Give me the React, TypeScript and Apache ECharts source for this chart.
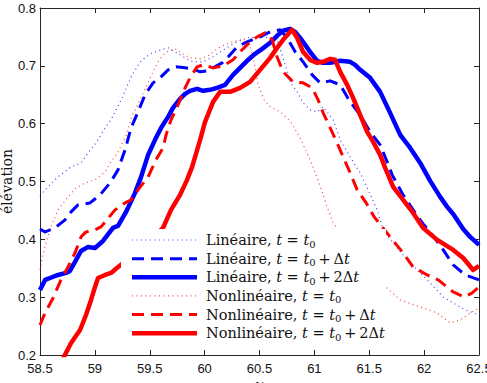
import React, { useEffect, useRef } from "react";
import * as echarts from "echarts";

// Axis ranges and ticks
const xMin = 58.5;
const xMax = 62.5;
const xStep = 0.5;
const yMin = 0.2;
const yMax = 0.8;
const yStep = 0.1;

// Linéaire, t = t0
const linT0: [number, number][] = [
  [58.5, 0.4751], [58.546, 0.4855], [58.664, 0.508], [58.783, 0.5253], [58.874, 0.5322],
  [58.938, 0.5495], [59.01, 0.5668], [59.083, 0.5893], [59.156, 0.61], [59.248, 0.6446],
  [59.33, 0.681], [59.412, 0.7069], [59.503, 0.7208], [59.603, 0.7277], [59.667, 0.7311],
  [59.731, 0.7242], [59.822, 0.7138], [59.895, 0.7069], [59.986, 0.7069], [60.077, 0.7156],
  [60.159, 0.726], [60.259, 0.7381], [60.387, 0.7484], [60.505, 0.7502], [60.597, 0.7484],
  [60.66, 0.745], [60.715, 0.7138], [60.779, 0.6723], [60.843, 0.655], [60.897, 0.636],
  [60.961, 0.6239], [61.025, 0.6204], [61.08, 0.6291], [61.171, 0.6066], [61.235, 0.572],
  [61.326, 0.5426], [61.417, 0.5149], [61.49, 0.4855], [61.572, 0.4509], [61.627, 0.4163],
  [61.718, 0.3938], [61.846, 0.3644], [61.937, 0.3471], [62.055, 0.3246], [62.174, 0.3003],
  [62.265, 0.29], [62.374, 0.2779], [62.5, 0.2692],
];

// Linéaire, t = t0 + Δt
const linT1: [number, number][] = [
  [58.5, 0.418], [58.546, 0.4128], [58.637, 0.4197], [58.728, 0.4336], [58.783, 0.4474],
  [58.846, 0.4595], [58.956, 0.463], [59.047, 0.4768], [59.138, 0.4976], [59.211, 0.5201],
  [59.275, 0.5547], [59.33, 0.5927], [59.393, 0.6204], [59.457, 0.6498], [59.53, 0.6706],
  [59.603, 0.681], [59.667, 0.6931], [59.74, 0.6983], [59.822, 0.6965], [59.895, 0.6948],
  [59.959, 0.6896], [60.022, 0.6913], [60.077, 0.6965], [60.159, 0.7052], [60.232, 0.719],
  [60.296, 0.7329], [60.387, 0.7415], [60.505, 0.7502], [60.597, 0.7588], [60.688, 0.7623],
  [60.752, 0.7484], [60.825, 0.7242], [60.897, 0.7069], [60.98, 0.6844], [61.052, 0.6706],
  [61.144, 0.674], [61.235, 0.6671], [61.326, 0.6377], [61.417, 0.6152], [61.508, 0.5858],
  [61.599, 0.5633], [61.663, 0.5339], [61.709, 0.5114], [61.809, 0.4768], [61.9, 0.4509],
  [61.991, 0.4266], [62.082, 0.4059], [62.174, 0.3817], [62.265, 0.3557], [62.374, 0.3384],
  [62.5, 0.3298],
];

// Linéaire, t = t0 + 2Δt
const linT2: [number, number][] = [
  [58.5, 0.3125], [58.546, 0.3298], [58.591, 0.3332], [58.664, 0.3384], [58.737, 0.3419],
  [58.773, 0.3453], [58.819, 0.3609], [58.874, 0.3799], [58.938, 0.3869], [59.001, 0.3851],
  [59.074, 0.3972], [59.165, 0.4197], [59.211, 0.4232], [59.284, 0.4474], [59.366, 0.4803],
  [59.421, 0.508], [59.485, 0.546], [59.548, 0.572], [59.603, 0.5927], [59.667, 0.6118],
  [59.712, 0.6273], [59.776, 0.6429], [59.822, 0.6516], [59.867, 0.6568], [59.931, 0.6602],
  [59.986, 0.6568], [60.05, 0.6585], [60.113, 0.6619], [60.186, 0.6671], [60.259, 0.6844],
  [60.323, 0.6965], [60.387, 0.7087], [60.46, 0.7208], [60.524, 0.7294], [60.597, 0.7398],
  [60.66, 0.7519], [60.715, 0.7606], [60.779, 0.764], [60.825, 0.7588], [60.87, 0.7484],
  [60.916, 0.7363], [60.961, 0.7242], [61.025, 0.7087], [61.08, 0.7052], [61.144, 0.7052],
  [61.235, 0.7087], [61.326, 0.7069], [61.371, 0.7017], [61.417, 0.6931], [61.508, 0.6792],
  [61.599, 0.655], [61.69, 0.6187], [61.782, 0.5806], [61.873, 0.5581], [61.964, 0.5322],
  [62.055, 0.501], [62.146, 0.4734], [62.21, 0.4561], [62.265, 0.4439], [62.356, 0.418],
  [62.42, 0.4042], [62.5, 0.3903],
];

// Nonlinéaire, t = t0
const nlT0: [number, number][] = [
  [58.5, 0.3471], [58.527, 0.373], [58.555, 0.3938], [58.6, 0.4215], [58.664, 0.4509],
  [58.755, 0.4734], [58.819, 0.4872], [58.91, 0.4976], [59.001, 0.5028], [59.093, 0.5166],
  [59.147, 0.5339], [59.211, 0.5512], [59.275, 0.5754], [59.339, 0.6135], [59.43, 0.6481],
  [59.521, 0.6862], [59.585, 0.7104], [59.649, 0.7242], [59.731, 0.7294], [59.785, 0.7225],
  [59.867, 0.7138], [59.959, 0.7121], [60.031, 0.7173], [60.141, 0.7329], [60.232, 0.7398],
  [60.323, 0.745], [60.378, 0.7415], [60.414, 0.7329], [60.451, 0.7069], [60.487, 0.6671],
  [60.542, 0.6412], [60.597, 0.6291], [60.688, 0.6204], [60.779, 0.6048], [60.87, 0.5754],
  [60.961, 0.5374], [61.025, 0.5062], [61.071, 0.482], [61.116, 0.4561], [61.171, 0.4284],
  [61.417, 0.3644], [61.663, 0.3159], [61.782, 0.2952], [61.964, 0.283], [62.119, 0.2727],
  [62.237, 0.2554], [62.329, 0.2606], [62.42, 0.2727], [62.5, 0.2813],
];

// Nonlinéaire, t = t0 + Δt
const nlT1: [number, number][] = [
  [58.5, 0.2519], [58.546, 0.2727], [58.619, 0.2986], [58.691, 0.3298], [58.755, 0.3522],
  [58.819, 0.3765], [58.874, 0.4042], [58.919, 0.4128], [59.001, 0.4163], [59.056, 0.4215],
  [59.184, 0.4509], [59.275, 0.463], [59.33, 0.4682], [59.393, 0.4855], [59.485, 0.508],
  [59.557, 0.5374], [59.621, 0.5581], [59.649, 0.5806], [59.694, 0.6066], [59.758, 0.6325],
  [59.822, 0.6619], [59.867, 0.6792], [59.931, 0.6983], [59.986, 0.7017], [60.077, 0.6965],
  [60.168, 0.7], [60.259, 0.7104], [60.323, 0.7242], [60.387, 0.7363], [60.478, 0.7502],
  [60.551, 0.7571], [60.615, 0.745], [60.66, 0.7156], [60.715, 0.6896], [60.806, 0.6723],
  [60.897, 0.6706], [60.98, 0.6619], [61.034, 0.6412], [61.08, 0.6187], [61.144, 0.5927],
  [61.207, 0.5668], [61.262, 0.5426], [61.326, 0.5149], [61.39, 0.4855], [61.472, 0.463],
  [61.545, 0.4388], [61.69, 0.4042], [61.809, 0.3765], [61.9, 0.3522], [62.028, 0.3384],
  [62.128, 0.3298], [62.265, 0.309], [62.365, 0.3003], [62.438, 0.3073], [62.5, 0.3176],
];

// Nonlinéaire, t = t0 + 2Δt
const nlT2: [number, number][] = [
  [58.7, 0.19], [58.783, 0.2208], [58.865, 0.2433], [58.919, 0.2692], [58.965, 0.2952],
  [59.001, 0.3176], [59.029, 0.3332], [59.093, 0.3384], [59.147, 0.3419], [59.211, 0.3522],
  [59.412, 0.3817], [59.621, 0.4197], [59.694, 0.4509], [59.776, 0.4768], [59.84, 0.5028],
  [59.886, 0.5253], [59.959, 0.572], [60.004, 0.6031], [60.077, 0.6377], [60.141, 0.655],
  [60.232, 0.655], [60.323, 0.6619], [60.414, 0.6723], [60.505, 0.6931], [60.597, 0.7138],
  [60.66, 0.7311], [60.715, 0.745], [60.797, 0.7623], [60.843, 0.7484], [60.897, 0.7242],
  [60.961, 0.7104], [61.025, 0.7052], [61.08, 0.7069], [61.144, 0.7121], [61.189, 0.7104],
  [61.235, 0.6896], [61.299, 0.6671], [61.353, 0.6446], [61.417, 0.6152], [61.481, 0.5858],
  [61.536, 0.5685], [61.599, 0.546], [61.645, 0.5235], [61.718, 0.4907], [61.809, 0.4682],
  [61.9, 0.4457], [61.991, 0.4197], [62.119, 0.399], [62.265, 0.3817], [62.356, 0.3678],
  [62.447, 0.347], [62.5, 0.354],
];

const BLUE = "#0000ff";
const RED = "#ff0000";
const SERIF = "DejaVu Serif";
const SANS = "Liberation Sans";
const AXIS_COLOR = "#262626";

type Style = { color: string; width: number; dash: number[] | "solid"; opacity: number };
const dotted = (color: string): Style => ({ color, width: 1.2, dash: [1, 3.5], opacity: 0.75 });
const dashed = (color: string): Style => ({ color, width: 3, dash: [12, 7], opacity: 1 });
const solid = (color: string): Style => ({ color, width: 4.5, dash: "solid", opacity: 1 });

// thin spaces around the binary "+"
const PLUS = "\u2009+\u2009";

const seriesList = [
  { name: "lin0", data: linT0, style: dotted(BLUE), label: "{r|Linéaire, }{i|t}{r| = }{i|t}{s|0}" },
  { name: "lin1", data: linT1, style: dashed(BLUE), label: `{r|Linéaire, }{i|t}{r| = }{i|t}{s|0}{r|${PLUS}Δ}{i|t}` },
  { name: "lin2", data: linT2, style: solid(BLUE), label: `{r|Linéaire, }{i|t}{r| = }{i|t}{s|0}{r|${PLUS}2Δ}{i|t}` },
  { name: "nl0", data: nlT0, style: dotted(RED), label: "{r|Nonlinéaire, }{i|t}{r| = }{i|t}{s|0}" },
  { name: "nl1", data: nlT1, style: dashed(RED), label: `{r|Nonlinéaire, }{i|t}{r| = }{i|t}{s|0}{r|${PLUS}Δ}{i|t}` },
  { name: "nl2", data: nlT2, style: solid(RED), label: `{r|Nonlinéaire, }{i|t}{r| = }{i|t}{s|0}{r|${PLUS}2Δ}{i|t}` },
];

const richText = {
  r: { fontFamily: SERIF, fontSize: 14.5, lineHeight: 18, fill: "#111" },
  i: { fontFamily: SERIF, fontSize: 14.5, lineHeight: 18, fontStyle: "italic", fill: "#111" },
  s: { fontFamily: SERIF, fontSize: 10, lineHeight: 12, verticalAlign: "bottom", fill: "#111" },
};

function buildLegend() {
  const boxX = 121;
  const boxY = 229;
  const boxW = 265;
  const boxH = 120;
  const rowTop = 240;
  const rowStep = 18.65;
  const lineX1 = 132;
  const lineX2 = 197;
  const textX = 206;
  const els: any[] = [
    { type: "rect", z: 100, shape: { x: boxX, y: boxY, width: boxW, height: boxH }, style: { fill: "#ffffff" } },
  ];
  seriesList.forEach((s, k) => {
    const yc = rowTop + k * rowStep;
    els.push({
      type: "line",
      z: 101,
      shape: { x1: lineX1, y1: yc, x2: lineX2, y2: yc },
      style: {
        stroke: s.style.color,
        lineWidth: s.style.width,
        lineDash: s.style.dash === "solid" ? null : s.style.dash,
        opacity: s.style.opacity,
      },
    });
    els.push({
      type: "text",
      z: 101,
      x: textX,
      y: yc,
      style: { text: s.label, rich: richText, verticalAlign: "middle", align: "left" },
    });
  });
  return els;
}

function buildOption(): echarts.EChartsOption {
  const commonX = {
    type: "value" as const,
    min: xMin,
    max: xMax,
    interval: xStep,
    splitLine: { show: false },
    axisLine: { show: true, onZero: false, lineStyle: { color: AXIS_COLOR, width: 1 } },
    axisTick: { show: true, inside: true, length: 5, lineStyle: { color: AXIS_COLOR } },
  };
  const commonY = {
    type: "value" as const,
    min: yMin,
    max: yMax,
    interval: yStep,
    splitLine: { show: false },
    axisLine: { show: true, onZero: false, lineStyle: { color: AXIS_COLOR, width: 1 } },
    axisTick: { show: true, inside: true, length: 5, lineStyle: { color: AXIS_COLOR } },
  };
  return {
    animation: false,
    backgroundColor: "#ffffff",
    grid: { left: 40, right: 8, top: 8, bottom: 28, containLabel: false, outerBoundsMode: "none" } as any,
    xAxis: [
      {
        ...commonX,
        position: "bottom",
        axisLabel: { show: true, margin: 7, color: "#111", fontFamily: SANS, fontSize: 13, hideOverlap: false },
        name: "x",
        nameLocation: "middle",
        nameGap: 22,
        nameMoveOverlap: false,
        nameTextStyle: { fontFamily: SERIF, fontStyle: "italic", fontSize: 15, color: "#111" },
      } as any,
      { ...commonX, position: "top", axisLabel: { show: false } },
    ],
    yAxis: [
      {
        ...commonY,
        position: "left",
        axisLabel: {
          show: true,
          margin: 4,
          color: "#111",
          fontFamily: SANS,
          fontSize: 13,
          formatter: (v: number) => v.toFixed(1),
        },
        name: "élévation",
        nameLocation: "middle",
        nameGap: 26,
        nameMoveOverlap: false,
        nameTextStyle: { fontFamily: SERIF, fontSize: 14, color: "#111" },
      } as any,
      { ...commonY, position: "right", axisLabel: { show: false } },
    ],
    series: seriesList.map((s) => ({
      type: "line" as const,
      name: s.name,
      data: s.data,
      xAxisIndex: 0,
      yAxisIndex: 0,
      showSymbol: false,
      symbol: "none",
      clip: true,
      smooth: false,
      lineStyle: {
        color: s.style.color,
        width: s.style.width,
        type: s.style.dash === "solid" ? "solid" : (s.style.dash as number[]),
        opacity: s.style.opacity,
        cap: "butt",
        join: "round",
      },
      emphasis: { disabled: true },
    })),
    graphic: buildLegend(),
  };
}

export default function App() {
  const ref = useRef<HTMLDivElement>(null);
  useEffect(() => {
    if (!ref.current) return;
    const chart = echarts.init(ref.current, null, { renderer: "svg" });
    chart.setOption(buildOption());
    return () => chart.dispose();
  }, []);
  return (
    <div
      ref={ref}
      style={{
        position: "absolute",
        left: 0,
        top: 0,
        width: 487,
        height: 383,
        overflow: "hidden",
        background: "#ffffff",
      }}
    />
  );
}
